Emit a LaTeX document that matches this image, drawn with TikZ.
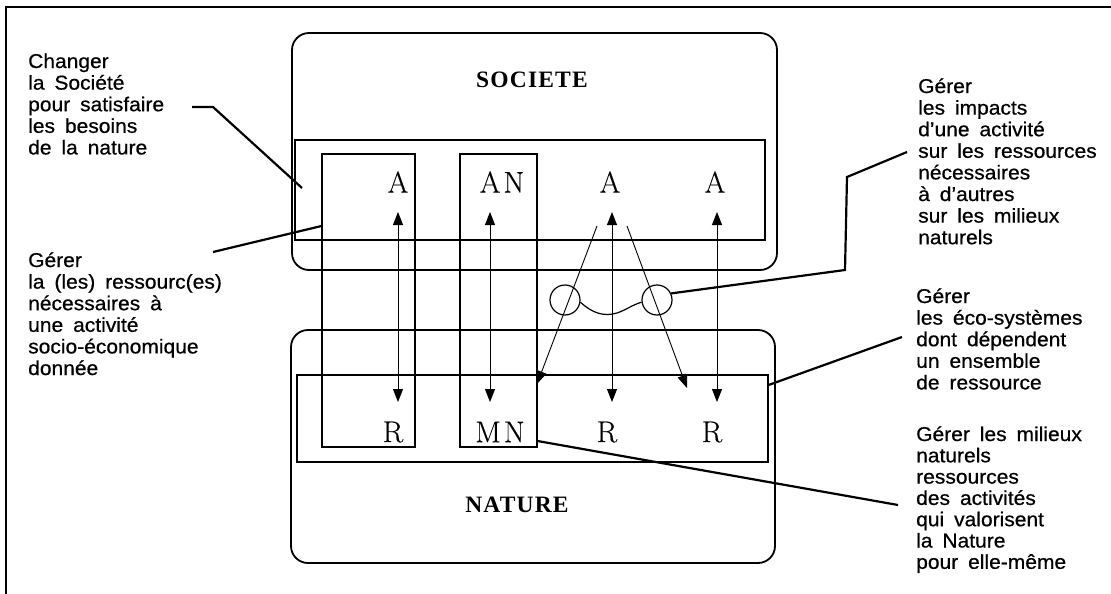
\documentclass[tikz,border=0pt]{standalone}
\usepackage{fontspec}
\usetikzlibrary{arrows.meta}
\newfontfamily\labfont[FakeStretch=1.05,WordSpace=1.7,FakeBold=0.6]{Liberation Sans}
\newfontfamily\ttlfont[LetterSpace=5]{Liberation Serif}
\newfontfamily\letfont[LetterSpace=10,FakeBold=0.3]{Latin Modern Roman}
\newcommand\stk[2][21.6pt]{\vtop{\baselineskip=#1\lineskiplimit=-20pt\halign{##\hfil\cr#2\crcr}}}
\begin{document}
\begin{tikzpicture}[x=1pt,y=-1pt,
  bigbox/.style={draw, line width=1.8pt, rounded corners=17pt, inner sep=0pt},
  band/.style={draw, line width=1.1pt, inner sep=0pt},
  col/.style={draw, line width=1.1pt, inner sep=0pt},
  letter/.style={font=\letfont\fontsize{30}{30}\selectfont, inner sep=0pt},
  ttl/.style={font=\ttlfont\bfseries\fontsize{23.5}{23.5}\selectfont, inner sep=0pt},
  lbl/.style={font=\labfont\fontsize{20}{21.6}\selectfont, inner sep=0pt, anchor=base west},
  tip/.tip={Triangle[length=13pt,width=10pt]},
  darr/.style={line width=0.9pt, tip-tip},
  sarr/.style={line width=0.9pt, -tip},
  pointer/.style={line width=2.2pt},
  ring/.style={draw, circle, line width=1.2pt, minimum size=30pt, inner sep=0pt}]
\useasboundingbox (0,0) rectangle (1111,594);
\fill[white] (0,0) rectangle (1111,594);
% frame
\draw[line width=1.8pt] (6,594) -- (6,7) -- (1111,7);
% big boxes
\node[bigbox, minimum width=485pt, minimum height=237pt] (soc) at (534.5,151.5) {};
\node[bigbox, minimum width=484pt, minimum height=233pt] (nat) at (533,446.5) {};
\node[ttl] (socl) at (532,80) {SOCIETE};
\node[ttl] (natl) at (517,505) {NATURE};
% bands
\node[band, minimum width=470pt, minimum height=100pt] (sband) at (530,190) {};
\node[band, minimum width=471pt, minimum height=87pt] (nband) at (532.5,418.5) {};
% columns
\node[col, minimum width=93pt, minimum height=293pt] (box1) at (368.5,300.5) {};
\node[col, minimum width=77pt, minimum height=293pt] (box2) at (498.5,300.5) {};
% letters
\node[letter] (A1) at (398,182) {A};
\node[letter] (AN) at (502,182) {AN};
\node[letter] (A3) at (610,182) {A};
\node[letter] (A4) at (715,182) {A};
\node[letter] (R1) at (393,432) {R};
\node[letter] (MN) at (500,432) {MN};
\node[letter] (R3) at (607,432) {R};
\node[letter] (R4) at (712,432) {R};
% arrow ends
\coordinate (a1t) at (398,212); \coordinate (a1b) at (398,402);
\coordinate (a2t) at (490,212); \coordinate (a2b) at (490,402);
\coordinate (a3t) at (612,212); \coordinate (a3b) at (612,402);
\coordinate (a4t) at (717,212); \coordinate (a4b) at (717,402);
\coordinate (d1s) at (597,226); \coordinate (d1e) at (537,384);
\coordinate (d2s) at (627,226); \coordinate (d2e) at (687,388);
\draw[darr] (a1t) -- (a1b);
\draw[darr] (a2t) -- (a2b);
\draw[darr] (a3t) -- (a3b);
\draw[darr] (a4t) -- (a4b);
\draw[sarr] (d1s) -- (d1e);
\draw[sarr] (d2s) -- (d2e);
% circles
\node[ring] (c1) at (565,300) {};
\node[ring] (c2) at (657,300) {};
\draw[line width=1.2pt] (c1.-8) .. controls (592,313) and (604,317) .. (617,313) .. controls (626,310) and (632,305) .. (c2.188);
% labels
\node[lbl] (t1) at (28,68) {\stk{Changer\cr la Société\cr pour satisfaire\cr les besoins\cr de la nature}};
\node[lbl] (t2) at (28,267) {\stk{Gérer\cr la (les) ressourc(es)\cr nécessaires à\cr une activité\cr socio-économique\cr donnée}};
\node[lbl] (t3) at (918,93) {\stk{Gérer\cr les impacts\cr d’une activité\cr sur les ressources\cr nécessaires\cr à d’autres\cr sur les milieux\cr naturels}};
\node[lbl] (t4) at (916,303) {\stk{Gérer\cr les éco-systèmes\cr dont dépendent\cr un ensemble\cr de ressource}};
\node[lbl] (t5) at (916,441) {\stk[21.3pt]{Gérer les milieux\cr naturels\cr ressources\cr des activités\cr qui valorisent\cr la Nature\cr pour elle-même}};
% pointer lines
\coordinate (p1a) at (192,107); \coordinate (p1b) at (213,107); \coordinate (p1c) at (302,188);
\draw[pointer] (p1a) -- (p1b) -- (p1c);
\coordinate (p2a) at (213,252);
\draw[pointer] (p2a) -- (box1.west |- 0,226);
\coordinate (p3a) at (845,270); \coordinate (p3b) at (847,177); \coordinate (p3c) at (907,152);
\draw[pointer] (c2.25) -- (p3a) -- (p3b) -- (p3c);
\coordinate (p4a) at (902,337);
\draw[pointer] (nband.east |- 0,385) -- (p4a);
\coordinate (p5a) at (898,505);
\draw[pointer] (box2.east |- 0,441) -- (p5a);
\end{tikzpicture}
\end{document}
